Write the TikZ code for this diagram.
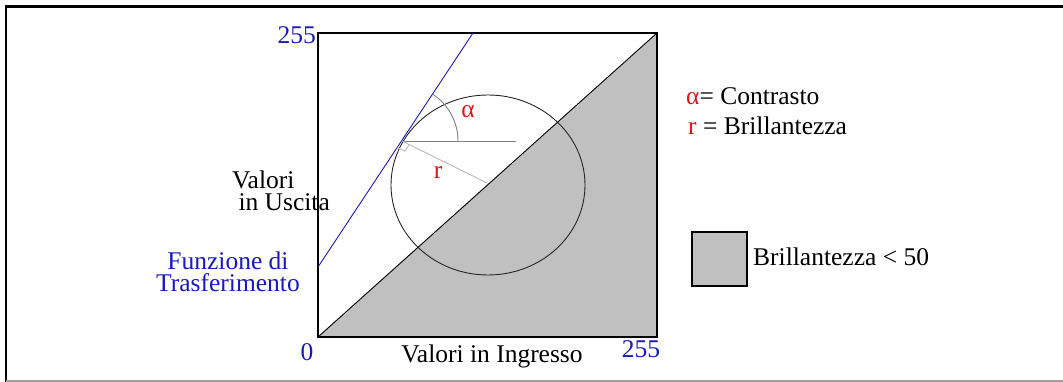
\documentclass[tikz,border=0pt]{standalone}
\usepackage{fontspec}
\setmainfont{Liberation Serif}
\definecolor{bluec}{RGB}{25,25,190}
\definecolor{redc}{RGB}{220,25,25}
\definecolor{fillg}{RGB}{192,192,192}
\begin{document}
\begin{tikzpicture}[x=1pt,y=1pt,
  lbl/.style={inner sep=0pt, font=\fontsize{25.5}{22.5}\selectfont},
  thin line/.style={line width=0.9pt},
  frame line/.style={line width=2.2pt}]
\useasboundingbox (0,0) rectangle (1063,382);
% outer frame
\draw[frame line] (6,0) -- (6,375.5) -- (1063,375.5);
\draw[gray!75, line width=1.5pt] (6,1) -- (1063,1);
% graph area
\coordinate (O) at (318,45);
\coordinate (X) at (657,45);
\coordinate (XY) at (657,349);
\coordinate (Y) at (318,349);
\fill[fillg] (O) -- (X) -- (XY) -- cycle;
\draw[thin line, black!85] (488,197) ellipse [x radius=97, y radius=90];
\draw[thin line] (O) -- (XY);
\draw[frame line] (O) rectangle (XY);
% transfer function
\coordinate (T) at (402,241);
\coordinate (B0) at (318,115);
\coordinate (B1) at (473,349);
\draw[bluec, thin line] (B0) -- (B1);
\coordinate (H) at (516,241);
\draw[gray, thin line] (T) -- (H);
\draw[gray, thin line] ([shift={(56,0)}]T) arc[start angle=0, end angle=56.6, radius=56];
\coordinate (R) at (487,199);
\draw[gray!55, thin line] (T) -- (R);
\draw[gray!55, thin line] ([shift={(-4.4,-6.7)}]T) -- ++(7.2,-3.5) -- ++(4.4,6.7);
% labels
\node[lbl, text=redc] (alpha) at (468,270) {α};
\node[lbl, text=redc] (r) at (438,210) {r};
\node[lbl, text=bluec, anchor=east] (ytop) at (316,347) {255};
\node[lbl, text=bluec] (zero) at (307,30) {0};
\node[lbl, text=bluec] (xtop) at (641,33) {255};
\node[lbl] (xlab) at (492,26) {Valori in Ingresso};
\node[lbl, align=left] (ylab) at (281,191) {Valori\\\ in Uscita};
\node[lbl, text=bluec, align=center] (flab) at (228,110) {Funzione di\\Trasferimento};
% legend
\node[lbl, anchor=west] (leg1) at (686,286) {\textcolor{redc}{α}= Contrasto};
\node[lbl, anchor=west] (leg2) at (688,256) {\textcolor{redc}{r} = Brillantezza};
\node[draw, fill=fillg, line width=1.3pt, minimum width=55pt, minimum height=54pt, inner sep=0pt] (box) at (719.5,123) {};
\node[lbl, anchor=west] (leg3) at (753,125) {Brillantezza < 50};
\end{tikzpicture}
\end{document}
